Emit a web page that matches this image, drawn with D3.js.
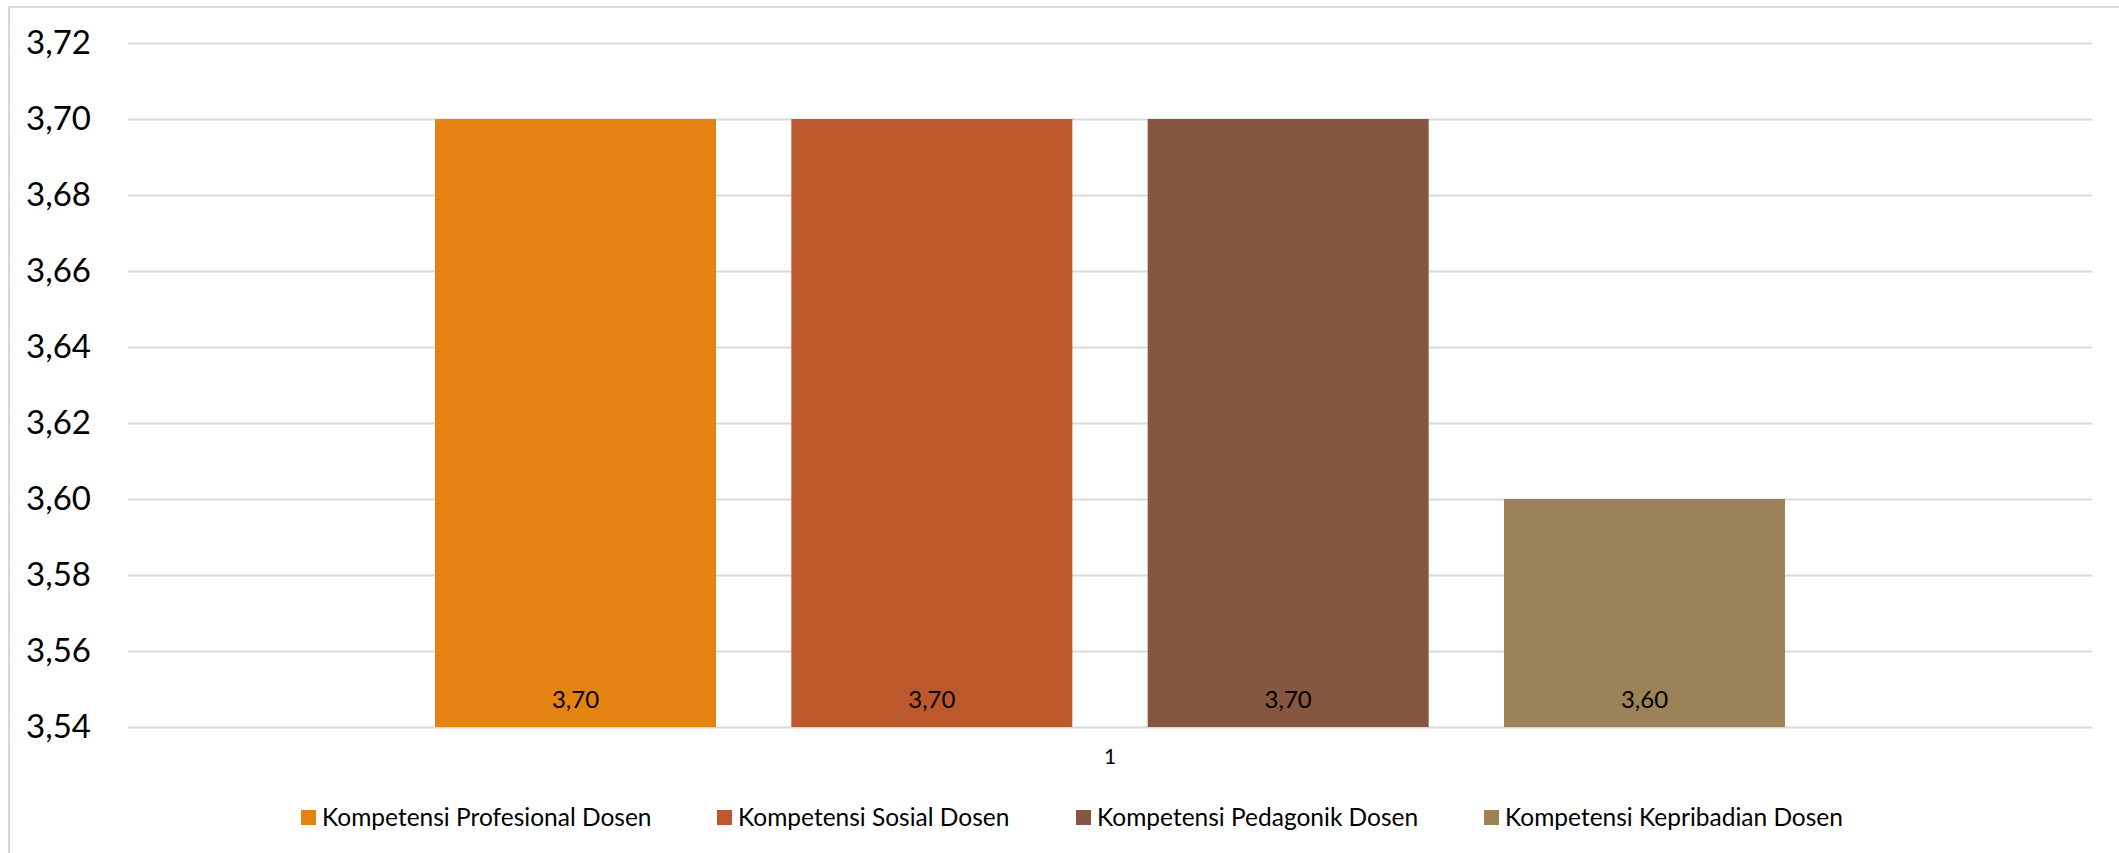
<!DOCTYPE html>
<html>
<head>
<meta charset="utf-8">
<script src="https://cdn.jsdelivr.net/npm/d3@7"></script>
<style>
html,body{margin:0;padding:0;background:#fff;}
svg{display:block;}
text{font-family:Lato,"Open Sans",sans-serif;fill:#000;}
</style>
</head>
<body>
<svg id="chart" width="2119" height="853"></svg>
<script>
const categories = ["1"];
const seriesNames = ["Kompetensi Profesional Dosen","Kompetensi Sosial Dosen","Kompetensi Pedagonik Dosen","Kompetensi Kepribadian Dosen"];
const seriesValues = [3.70, 3.70, 3.70, 3.60];
const seriesColors = ["#E48312","#BD582C","#865640","#9B8357"];
const yTicks = [3.54,3.56,3.58,3.60,3.62,3.64,3.66,3.68,3.70,3.72];
const yDomain = [3.54, 3.72];

const svg = d3.select("#chart");
const W = 2119, H = 853;
const plot = {left:128, right:2092, top:43, bottom:727};
const fmt = v => d3.format(".2f")(v).replace(".", ",");

// outer frame
svg.append("rect").attr("x",9).attr("y",7).attr("width",W+20).attr("height",H+20)
  .attr("fill","none").attr("stroke","#d9d9d9").attr("stroke-width",2);

const y = d3.scaleLinear().domain(yDomain).range([plot.bottom, plot.top]);
const x0 = d3.scaleBand().domain(categories).range([plot.left, plot.right]).paddingInner(0).paddingOuter(0.2274);
const x1 = d3.scaleBand().domain(seriesNames).range([0, x0.bandwidth()]).paddingInner(0.2114).paddingOuter(0);

// gridlines via axis
const gridAxis = d3.axisLeft(y).tickValues(yTicks).tickSize(-(plot.right-plot.left)).tickFormat("");
const grid = svg.append("g").attr("transform",`translate(${plot.left},0)`).call(gridAxis);
grid.select(".domain").remove();
grid.selectAll("line").attr("stroke","#d9d9d9").attr("stroke-width",2);

// y tick labels
const yAxis = d3.axisLeft(y).tickValues(yTicks).tickSize(0).tickPadding(37).tickFormat(fmt);
const ya = svg.append("g").attr("transform",`translate(${plot.left},0)`).call(yAxis);
ya.select(".domain").remove();
ya.selectAll("text").style("font-family","Lato, 'Open Sans', sans-serif").style("font-size","33px").attr("fill","#000");

// bars
const g = svg.append("g");
const data = seriesNames.map((n,i)=>({name:n, value:seriesValues[i], color:seriesColors[i], cat:categories[0]}));
g.selectAll("rect.bar").data(data).join("rect").attr("class","bar")
  .attr("x", d => x0(d.cat) + x1(d.name))
  .attr("y", d => y(d.value))
  .attr("width", x1.bandwidth())
  .attr("height", d => y(yDomain[0]) - y(d.value))
  .attr("fill", d => d.color);

// value labels
g.selectAll("text.val").data(data).join("text").attr("class","val")
  .attr("x", d => x0(d.cat) + x1(d.name) + x1.bandwidth()/2)
  .attr("y", y(yDomain[0]) - 19)
  .attr("text-anchor","middle")
  .style("font-size","24px")
  .text(d => fmt(d.value));

// x axis category label
const xAxis = d3.axisBottom(x0).tickSize(0).tickPadding(22);
const xa = svg.append("g").attr("transform",`translate(0,${plot.bottom})`).call(xAxis);
xa.select(".domain").remove();
xa.selectAll("text").style("font-family","Lato, 'Open Sans', sans-serif").style("font-size","21px").attr("fill","#000");

// legend
const legX = [301, 717, 1076, 1484];
const leg = svg.append("g");
data.forEach((d,i)=>{
  leg.append("rect").attr("x",legX[i]).attr("y",810).attr("width",15).attr("height",15).attr("fill",d.color);
  leg.append("text").attr("x",legX[i]+21).attr("y",826).style("font-size","24.5px").text(d.name);
});
</script>
</body>
</html>
